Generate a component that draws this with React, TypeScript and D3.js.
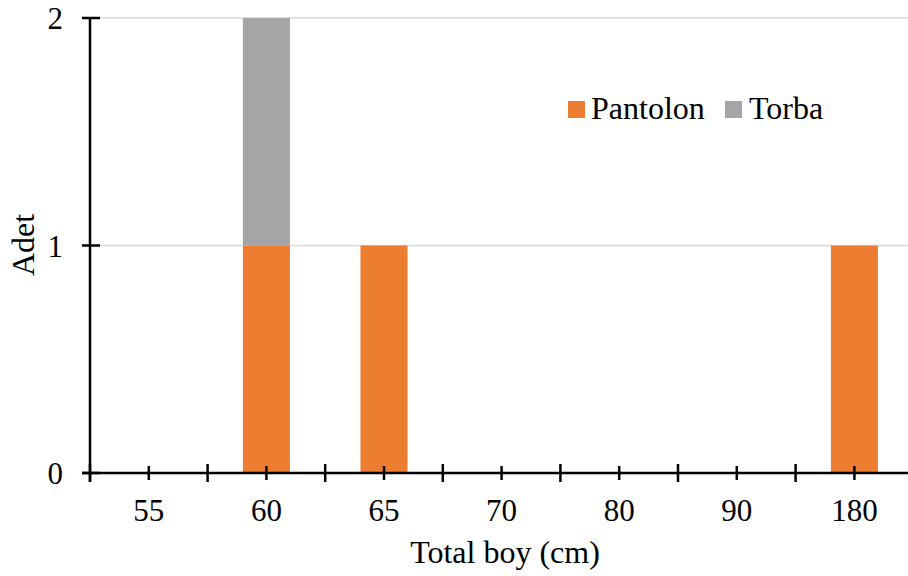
import React from "react";
import * as d3 from "d3";

const categories = ["55", "60", "65", "70", "80", "90", "180"];
const pantolon = [0, 1, 1, 0, 0, 0, 1];
const torba = [0, 1, 0, 0, 0, 0, 0];
const seriesNames = ["Pantolon", "Torba"];
const seriesColors = ["#ED7D31", "#A5A5A5"];
const yTicks = [0, 1, 2];

const W = 908;
const H = 576;
const FONT = "Liberation Serif";

export default function App() {
  const x = d3.scaleBand<string>().domain(categories).range([90, 90 + 117.6 * 7]).paddingInner(0).paddingOuter(0);
  const y = d3.scaleLinear().domain([0, 2]).range([473, 18]);
  const bw = x.bandwidth() * 0.4;

  const rows = categories.map((c, i) => ({ cat: c, Pantolon: pantolon[i], Torba: torba[i] }));
  const stack = d3.stack<any>().keys(seriesNames)(rows);

  const boundaries = d3.range(categories.length + 1).map((i) => 90 + x.step() * i);
  const ts = { fontFamily: FONT };

  return (
    <svg width={W} height={H} style={{ position: "absolute", left: 0, top: 0, background: "#fff" }}>
      <rect x={0} y={0} width={W} height={H} fill="#fff" />
      {yTicks.filter((t) => t > 0).map((t) => (
        <line key={"g" + t} x1={90} x2={W} y1={y(t)} y2={y(t)} stroke="#D9D9D9" strokeWidth={1.3} />
      ))}
      {stack.map((s, si) =>
        s.map((d, i) =>
          d[1] - d[0] > 0 ? (
            <rect
              key={si + "-" + i}
              x={(x(categories[i]) as number) + (x.bandwidth() - bw) / 2}
              y={y(d[1])}
              width={bw}
              height={y(d[0]) - y(d[1])}
              fill={seriesColors[si]}
            />
          ) : null
        )
      )}
      {/* y axis */}
      <line x1={90} x2={90} y1={18} y2={482} stroke="#000" strokeWidth={2.5} />
      {yTicks.map((t) => (
        <g key={"yt" + t}>
          <line x1={82} x2={100} y1={y(t)} y2={y(t)} stroke="#000" strokeWidth={2.5} />
          <text x={63} y={y(t) + 11} textAnchor="end" fontSize={31} fill="#000" style={ts}>
            {t}
          </text>
        </g>
      ))}
      {/* x axis */}
      <line x1={82} x2={W} y1={473} y2={473} stroke="#000" strokeWidth={2.5} />
      {boundaries.map((b, i) => (
        <line key={"b" + i} x1={b} x2={b} y1={464} y2={482} stroke="#000" strokeWidth={2.5} />
      ))}
      {categories.map((c) => {
        const cx = (x(c) as number) + x.bandwidth() / 2;
        return (
          <g key={"xt" + c}>
            <line x1={cx} x2={cx} y1={466} y2={480} stroke="#000" strokeWidth={2.5} />
            <text x={cx} y={521} textAnchor="middle" fontSize={31} fill="#000" style={ts}>
              {c}
            </text>
          </g>
        );
      })}
      <text x={505} y={563} textAnchor="middle" fontSize={32} fill="#000" style={ts}>
        Total boy (cm)
      </text>
      <text transform={`translate(34,245) rotate(-90)`} textAnchor="middle" fontSize={32} fill="#000" style={ts}>
        Adet
      </text>
      {/* legend */}
      <rect x={568} y={101} width={17} height={17} fill={seriesColors[0]} />
      <text x={591} y={119} fontSize={32} fill="#000" style={ts}>{seriesNames[0]}</text>
      <rect x={725} y={101} width={17} height={17} fill={seriesColors[1]} />
      <text x={749} y={119} fontSize={32} fill="#000" style={ts}>{seriesNames[1]}</text>
    </svg>
  );
}
